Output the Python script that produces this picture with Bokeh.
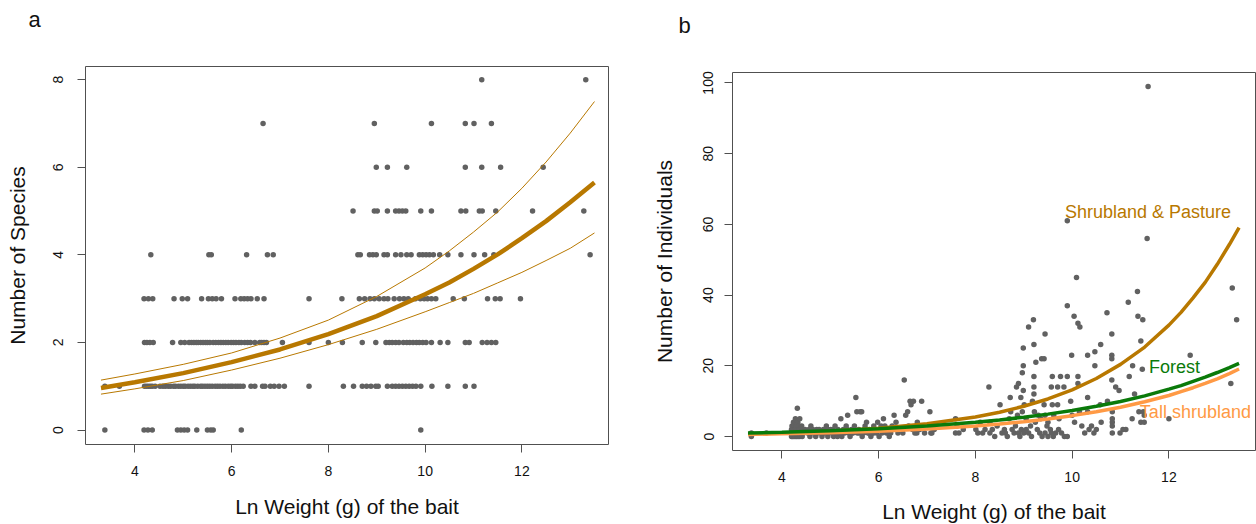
from bokeh.plotting import figure
from bokeh.layouts import row, column
from bokeh.models import FixedTicker, Range1d, Label, Spacer
from bokeh.embed import file_html
from bokeh.resources import INLINE

# ---------------- Panel a: Number of species ----------------
sp0_x = [3.38, 4.19, 4.27, 4.36, 4.88, 4.95, 5.02, 5.09, 5.28, 5.50, 5.57, 5.62, 6.20, 9.91]
sp1_x = [3.38, 3.68, 4.20, 4.24, 4.28, 4.32, 4.36, 4.42, 4.52, 4.58, 4.63, 4.69, 4.74, 4.80, 4.84,
         4.90, 4.95, 5.00, 5.04, 5.10, 5.15, 5.20, 5.24, 5.30, 5.36, 5.40, 5.45, 5.50, 5.55, 5.60,
         5.66, 5.71, 5.76, 5.82, 5.87, 5.93, 5.98, 6.02, 6.08, 6.13, 6.18, 6.24, 6.40, 6.48, 6.64,
         6.69, 6.80, 6.88, 6.98, 7.09, 7.60, 8.31, 8.52, 8.70, 8.79, 8.88, 8.98, 9.03, 9.22, 9.32,
         9.39, 9.46, 9.53, 9.60, 9.67, 9.74, 9.81, 9.91, 10.14, 10.47, 10.83, 11.01]
sp2_x = [4.20, 4.25, 4.31, 4.38, 4.78, 4.95, 5.03, 5.12, 5.17, 5.22, 5.27, 5.31, 5.36, 5.41, 5.46,
         5.50, 5.55, 5.62, 5.67, 5.73, 5.78, 5.83, 5.88, 5.93, 5.99, 6.04, 6.09, 6.15, 6.20, 6.27,
         6.33, 6.39, 6.48, 6.58, 6.62, 6.67, 6.72, 7.05, 7.60, 8.00, 8.29, 8.70, 8.98, 9.19, 9.26,
         9.32, 9.39, 9.46, 9.55, 9.62, 9.68, 9.75, 9.82, 9.88, 9.95, 10.02, 10.13, 10.31, 10.47,
         10.83, 10.91, 11.18, 11.28, 11.37, 11.46]
sp3_x = [4.19, 4.28, 4.37, 4.81, 4.98, 5.09, 5.38, 5.52, 5.60, 5.68, 5.79, 6.07, 6.19, 6.26, 6.33,
         6.40, 6.53, 6.67, 7.60, 8.28, 8.64, 8.75, 8.86, 8.95, 9.05, 9.15, 9.23, 9.36, 9.47, 9.56,
         9.65, 9.80, 9.90, 9.98, 10.05, 10.13, 10.22, 10.58, 10.81, 11.29, 11.45, 11.55, 11.97]
sp4_x = [4.33, 5.53, 5.58, 6.31, 6.74, 6.86, 8.61, 8.66, 8.85, 8.92, 8.99, 9.15, 9.22, 9.39, 9.50,
         9.62, 9.71, 9.88, 9.95, 10.02, 10.09, 10.17, 10.30, 10.47, 10.74, 11.01, 11.23, 11.42, 13.41]
sp5_x = [8.51, 8.95, 9.01, 9.22, 9.39, 9.46, 9.53, 9.60, 9.91, 10.13, 10.74, 10.84, 11.12, 11.18,
         11.46, 12.22, 13.28]
sp6_x = [8.99, 9.22, 9.62, 10.83, 11.17, 11.56, 12.44]
sp7_x = [6.65, 8.95, 10.13, 10.83, 11.01, 11.37]
sp8_x = [11.17, 13.32]
species_rows = [sp0_x, sp1_x, sp2_x, sp3_x, sp4_x, sp5_x, sp6_x, sp7_x, sp8_x]

curve_x_a = [3.3, 4, 5, 6, 7, 8, 9, 10, 10.5, 11, 11.5, 12, 12.5, 13, 13.5]
fit_a = [0.96, 1.09, 1.30, 1.55, 1.84, 2.19, 2.60, 3.10, 3.37, 3.68, 4.01, 4.38, 4.77, 5.20, 5.65]
upper_a = [1.14, 1.28, 1.50, 1.76, 2.10, 2.51, 3.05, 3.70, 4.09, 4.52, 4.98, 5.52, 6.12, 6.78, 7.50]
lower_a = [0.82, 0.94, 1.13, 1.37, 1.64, 1.95, 2.30, 2.70, 2.91, 3.12, 3.36, 3.60, 3.87, 4.15, 4.50]

# ---------------- Panel b: Number of individuals ----------------
ind_x = [
    3.37, 3.37, 3.68,
    4.20, 4.20, 4.20, 4.21, 4.22, 4.22, 4.23, 4.24, 4.24, 4.25, 4.26, 4.26, 4.27, 4.28, 4.28, 4.29,
    4.30, 4.30, 4.31, 4.32, 4.32, 4.33, 4.33, 4.34, 4.35, 4.35, 4.36, 4.37, 4.37, 4.38, 4.39, 4.40,
    4.41, 4.42, 4.45, 4.48,
    4.53, 4.56, 4.58, 4.60, 4.61, 4.64, 4.67, 4.70, 4.72, 4.74, 4.77, 4.80, 4.83, 4.85, 4.86, 4.89,
    4.92, 4.95, 4.95, 4.98, 5.01, 5.04, 5.05, 5.07, 5.10, 5.13, 5.15, 5.16, 5.19, 5.22, 5.24, 5.25,
    5.27, 5.30, 5.33, 5.35, 5.36, 5.38, 5.41, 5.44, 5.45, 5.47, 5.50, 5.53, 5.55, 5.56, 5.59, 5.60,
    5.62, 5.65, 5.66, 5.69, 5.70, 5.72, 5.75, 5.78, 5.80, 5.81, 5.84, 5.87, 5.90, 5.90, 5.93, 5.96,
    5.98, 6.00, 6.01, 6.04, 6.05, 6.07, 6.10, 6.13, 6.16, 6.19, 6.20, 6.22, 6.25, 6.28, 6.32, 6.36,
    6.38,
    6.40, 6.45, 6.50, 6.53, 6.56, 6.60, 6.62, 6.65, 6.67, 6.70, 6.72, 6.75, 6.79, 6.80, 6.85, 6.89,
    6.95, 7.06, 7.08, 7.10, 7.15,
    7.59, 7.59, 7.62, 7.66, 7.75, 8.01, 8.05, 8.10, 8.15, 8.20, 8.28, 8.30, 8.30, 8.35, 8.40, 8.45,
    8.51, 8.55, 8.60,
    8.62, 8.66, 8.70, 8.72, 8.73, 8.76, 8.80, 8.83, 8.85, 8.87, 8.89, 8.89, 8.92, 8.94, 8.95, 8.97,
    8.97, 8.99, 8.99, 8.99, 9.00, 9.01, 9.05, 9.05, 9.10, 9.10, 9.14, 9.16, 9.18, 9.20, 9.21, 9.21,
    9.21, 9.21, 9.22, 9.24, 9.25, 9.28, 9.30, 9.33, 9.35, 9.37, 9.38, 9.42, 9.42, 9.44, 9.44, 9.44,
    9.48, 9.50, 9.50, 9.55, 9.57, 9.57, 9.59, 9.59, 9.61, 9.62, 9.66, 9.70, 9.70, 9.72, 9.73, 9.76,
    9.78, 9.83, 9.84, 9.90, 9.90, 9.90, 9.90, 9.97, 9.99, 10.00, 10.04, 10.05, 10.09, 10.12, 10.12,
    10.12, 10.15, 10.16, 10.20, 10.26, 10.32, 10.32, 10.32, 10.35, 10.40, 10.45, 10.47, 10.47,
    10.50, 10.58, 10.59, 10.60, 10.72, 10.73, 10.82, 10.82, 10.82, 10.82, 10.83, 10.83, 10.83,
    10.83, 10.83, 10.90, 10.97, 10.99, 11.05, 11.11, 11.16, 11.18, 11.24, 11.25, 11.29, 11.35,
    11.36, 11.38, 11.42, 11.42, 11.45, 11.46, 11.47, 11.49, 11.49, 11.55, 11.57,
    12.00, 12.44, 13.28, 13.31, 13.40]
ind_y = [
    0, 1, 1,
    0, 1, 2, 3, 0, 1, 2, 1, 4, 0, 3, 1, 2, 0, 5, 1,
    2, 3, 0, 8, 1, 4, 2, 0, 3, 1, 2, 5, 0, 1, 2, 1,
    3, 0, 1, 2,
    1, 2, 0, 3, 1, 2, 1, 0, 2, 1, 2, 1, 0, 1, 2, 1,
    3, 0, 2, 1, 2, 1, 2, 0, 3, 1, 0, 2, 1, 5, 0, 1,
    2, 1, 3, 2, 6, 1, 0, 2, 1, 1, 3, 11, 7, 1, 2, 1,
    7, 7, 0, 1, 2, 3, 4, 1, 1, 2, 0, 1, 3, 1, 2, 1,
    4, 2, 0, 2, 3, 1, 5, 3, 1, 2, 1, 0, 1, 3, 6, 4,
    2,
    1, 2, 1, 16, 6, 7, 3, 10, 9, 2, 10, 1, 1, 4, 2, 10,
    1, 7, 1, 1, 2,
    5, 1, 3, 1, 2, 2, 1, 4, 1, 2, 14, 4, 1, 2, 0, 3,
    9, 1, 2,
    1, 0, 5, 11, 7, 2, 1, 3, 14, 6, 15, 1, 0, 11, 2, 18,
    7, 13, 25, 20, 1, 9, 5, 2, 31, 1, 3, 0, 10, 33, 26, 17,
    14, 12, 7, 4, 21, 2, 6, 1, 5, 22, 0, 9, 22, 6, 29, 1,
    3, 4, 0, 2, 14, 1, 17, 9, 0, 6, 1, 14, 9, 2, 5, 17,
    1, 14, 0, 17, 37, 61, 0, 10, 23, 6, 34, 4, 45, 17, 15,
    32, 7, 31, 3, 1, 11, 7, 23, 2, 3, 1, 24, 20,
    2, 9, 26, 4, 35, 10, 29, 23, 16, 22, 7, 5, 4,
    3, 1, 14, 13, 1, 2, 2, 38, 17, 5, 20, 12, 41,
    34, 7, 27, 4, 19, 33, 7, 6, 4, 56, 99,
    5, 23, 15, 42, 33]

curve_x_b = [3.3, 4, 5, 6, 7, 8, 8.5, 9, 9.5, 10, 10.5, 11, 11.5, 12, 12.25, 12.5, 12.75, 13, 13.25, 13.45]
shrub_pasture = [0.72, 0.97, 1.50, 2.32, 3.58, 5.53, 6.88, 8.55, 10.62, 13.2, 16.4, 20.4, 25.3, 31.5,
                 35.1, 39.2, 43.6, 48.7, 54.3, 59.1]
forest = [0.98, 1.21, 1.64, 2.21, 2.98, 4.03, 4.69, 5.45, 6.33, 7.35, 8.54, 9.92, 11.5, 13.4,
          14.4, 15.6, 16.8, 18.1, 19.5, 20.7]
tall_shrub = [0.60, 0.77, 1.08, 1.51, 2.12, 2.99, 3.54, 4.20, 4.97, 5.90, 7.00, 8.29, 9.84, 11.6,
              12.7, 13.8, 15.0, 16.3, 17.8, 19.1]

FONT = "Liberation Sans"
FRAME = "#505050"
PT = "#616161"
BROWN = "#B87800"
GREEN = "#0A7A0A"
ORANGE = "#FF9A45"


def style(p, yticks, x_label_standoff, y_tick_standoff, y_label_standoff):
    p.grid.visible = False
    p.outline_line_color = FRAME
    p.outline_line_width = 1
    p.background_fill_color = "white"
    p.border_fill_color = "white"
    for ax in (p.xaxis[0], p.yaxis[0]):
        ax.axis_line_color = None
        ax.major_tick_line_color = FRAME
        ax.major_tick_in = 0
        ax.major_tick_out = 8
        ax.minor_tick_line_color = None
        ax.major_label_text_font = FONT
        ax.major_label_text_font_size = "14px"
        ax.major_label_text_color = "#111111"
        ax.axis_label_text_font = FONT
        ax.axis_label_text_font_size = "21px"
        ax.axis_label_text_font_style = "normal"
        ax.axis_label_text_color = "#111111"
    p.xaxis[0].ticker = FixedTicker(ticks=[4, 6, 8, 10, 12])
    p.yaxis[0].ticker = FixedTicker(ticks=yticks)
    p.xaxis[0].major_label_standoff = 13
    p.xaxis[0].axis_label_standoff = x_label_standoff
    p.yaxis[0].major_label_orientation = "vertical"
    p.yaxis[0].major_label_standoff = y_tick_standoff
    p.yaxis[0].axis_label_standoff = y_label_standoff


def panel_letter(p, letter, offset, standoff):
    # the letter sits on the first of two title lines, which lifts it into the top margin
    p.title.text = letter + "\n "
    p.title.text_font = FONT
    p.title.text_font_size = "22px"
    p.title.text_font_style = "normal"
    p.title.text_color = "#111111"
    p.title.text_line_height = 1.1
    p.title.align = "left"
    p.title.vertical_align = "top"
    p.title.offset = offset
    p.title.standoff = standoff


# ----- figure a -----
pa = figure(frame_width=523, frame_height=378,
            x_range=Range1d(2.98, 13.79), y_range=Range1d(-0.33, 8.30),
            output_backend="svg", toolbar_location=None,
            min_border_left=85, min_border_right=40, min_border_top=66, min_border_bottom=80,
            x_axis_label="Ln Weight (g) of the bait", y_axis_label="Number of Species")
style(pa, [0, 2, 4, 6, 8], 16, 14, 22)
panel_letter(pa, "a", -57, 9)

a_x = []
a_y = []
for count, xs in enumerate(species_rows):
    a_x.extend(xs)
    a_y.extend([count] * len(xs))
pa.scatter(a_x, a_y, size=5.5, color=PT, line_color=None)
pa.line(curve_x_a, upper_a, line_color=BROWN, line_width=1)
pa.line(curve_x_a, lower_a, line_color=BROWN, line_width=1)
pa.line(curve_x_a, fit_a, line_color=BROWN, line_width=4.5)

# ----- figure b -----
pb = figure(frame_width=523, frame_height=378,
            x_range=Range1d(2.98, 13.79), y_range=Range1d(-3.96, 102.96),
            output_backend="svg", toolbar_location=None,
            min_border_left=84, min_border_right=1, min_border_top=66, min_border_bottom=74,
            x_axis_label="Ln Weight (g) of the bait", y_axis_label="Number of Individuals")
style(pb, [0, 20, 40, 60, 80, 100], 15, 11, 25)
panel_letter(pb, "b", -54, 9)

pb.scatter(ind_x, ind_y, size=5.5, color=PT, line_color=None)
pb.line(curve_x_b, shrub_pasture, line_color=BROWN, line_width=3.5)
pb.line(curve_x_b, tall_shrub, line_color=ORANGE, line_width=3.5)
pb.line(curve_x_b, forest, line_color=GREEN, line_width=3.5)

pb.add_layout(Label(x=9.85, y=63.6, text="Shrubland & Pasture", text_color=BROWN,
                    text_font=FONT, text_font_size="18px", text_baseline="middle"))
pb.add_layout(Label(x=11.59, y=19.6, text="Forest", text_color=GREEN,
                    text_font=FONT, text_font_size="18px", text_baseline="middle"))
pb.add_layout(Label(x=11.40, y=6.9, text="Tall shrubland", text_color=ORANGE,
                    text_font=FONT, text_font_size="18px", text_baseline="middle"))

layout = row(column(pa), column(Spacer(width=10, height=6), pb))
open("out.html", "w").write(file_html(layout, INLINE))
